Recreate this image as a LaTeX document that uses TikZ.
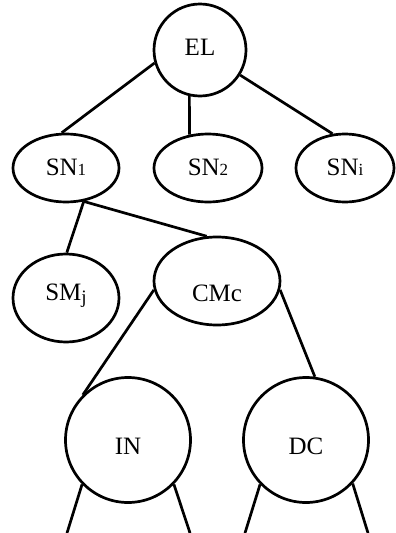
\documentclass[tikz,border=0pt]{standalone}
\usepackage{fontspec}
\setmainfont{Liberation Serif}
\usetikzlibrary{shapes.geometric}
\tikzset{
  shp/.style={draw=black, line width=2.7pt, inner sep=0pt, fill=white},
  circ/.style={shp, circle, minimum size=#1},
  ell/.style={shp, ellipse},
  lbl/.style={anchor=base, inner sep=0pt, font=\fontsize{25}{25}\selectfont},
  conn/.style={draw=black, line width=2.7pt}
}
\newcommand{\smallsub}[1]{{\fontsize{17}{17}\selectfont #1}}
\begin{document}
\begin{tikzpicture}[x=1pt, y=-1pt]
\useasboundingbox (0,0) rectangle (396,533);
% nodes
\node[circ=92pt] (EL) at (200,50) {};
\node[ell, minimum width=106pt, minimum height=68pt] (SN1) at (66,168) {};
\node[ell, minimum width=108pt, minimum height=68pt] (SN2) at (208,168) {};
\node[ell, minimum width=98pt, minimum height=68pt] (SNi) at (345,168) {};
\node[ell, minimum width=106pt, minimum height=88pt] (SMj) at (66,298) {};
\node[ell, minimum width=126pt, minimum height=88pt] (CMc) at (217,281) {};
\node[circ=125pt] (IN) at (128,440) {};
\node[circ=125pt] (DC) at (306,440) {};
% labels
\node[lbl] (tEL) at (200,55) {EL};
\node[lbl] (tSN1) at (66,175) {SN\smallsub{1}};
\node[lbl] (tSN2) at (208,175) {SN\smallsub{2}};
\node[lbl] (tSNi) at (345,175) {SN\smallsub{i}};
\node[lbl] (tSMj) at (66,300) {SM\raisebox{-3pt}{\fontsize{19}{19}\selectfont j}};
\node[lbl] (tCMc) at (217,301) {CMc};
\node[lbl] (tIN) at (128,454) {IN};
\node[lbl] (tDC) at (306,454) {DC};
% free ends
\coordinate (e1) at (67,533);
\coordinate (e2) at (190,533);
\coordinate (e3) at (245,533);
\coordinate (e4) at (368,533);
% connectors
\draw[conn] (EL.196) -- (SN1.97);
\draw[conn] (EL.257) -- (SN2.119);
\draw[conn] (EL.328) -- (SNi.110);
\draw[conn] (SN1.298) -- (SMj.89);
\draw[conn] (SN1.298) -- (CMc.103);
\draw[conn] (CMc.188) -- (IN.135);
\draw[conn] (CMc.352) -- (DC.82);
\draw[conn] (IN.224) -- (e1);
\draw[conn] (IN.316) -- (e2);
\draw[conn] (DC.224) -- (e3);
\draw[conn] (DC.317) -- (e4);
\end{tikzpicture}
\end{document}
